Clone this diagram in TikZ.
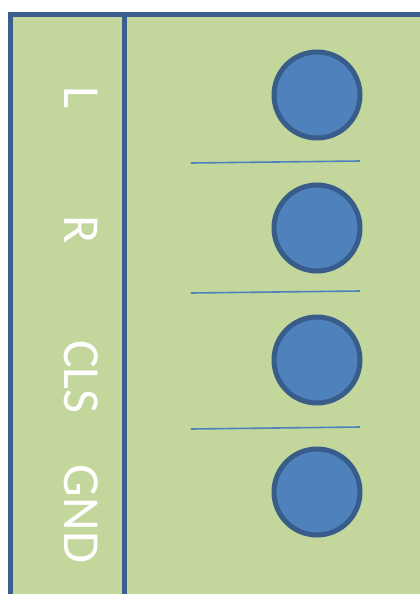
\documentclass[tikz,border=0pt]{standalone}
\usepackage{fontspec}
\setsansfont{Carlito}
\definecolor{panelgreen}{HTML}{C3D69B}
\definecolor{borderblue}{HTML}{3A5F8E}
\definecolor{padfill}{HTML}{4F81BD}
\definecolor{padedge}{HTML}{385D8A}
\begin{document}
\begin{tikzpicture}[x=1pt,y=-1pt,
  pad/.style={circle,draw=padedge,fill=padfill,line width=5pt,minimum size=86pt,inner sep=0pt},
  pinlabel/.style={text=white,font=\sffamily\fontsize{52}{52}\selectfont,rotate=-90,inner sep=0pt},
  sepline/.style={draw=padfill,line width=1.6pt}]
\useasboundingbox (0,0) rectangle (420,594);
\clip (0,0) rectangle (420,594);
\fill[panelgreen] (10,15) rectangle (440,620);
\draw[borderblue,line width=5pt] (10,620) -- (10,15) -- (440,15);
\draw[borderblue,line width=5pt] (124,15) -- (124,620);
\node[pinlabel] (lblL) at (81,97) {L};
\node[pinlabel] (lblR) at (81,230) {R};
\node[pinlabel] (lblCLS) at (81,377) {CLS};
\node[pinlabel] (lblGND) at (81,514) {GND};
\node[pad] (padL) at (317,95) {};
\node[pad] (padR) at (317,228) {};
\node[pad] (padCLS) at (317,360) {};
\node[pad] (padGND) at (317,492) {};
\draw[sepline] (191,163) -- (360,161);
\draw[sepline] (191,293) -- (360,291);
\draw[sepline] (191,429) -- (360,427);
\end{tikzpicture}
\end{document}
